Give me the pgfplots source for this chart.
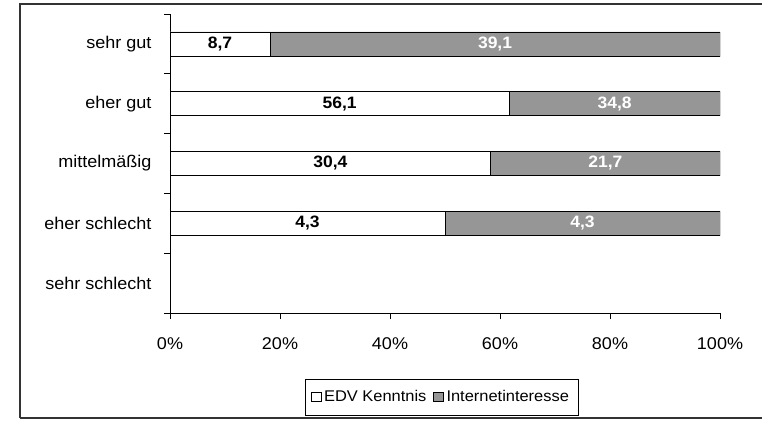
\documentclass[border=0pt]{standalone}
\usepackage{fontspec}
\setmainfont{Liberation Sans}[FakeStretch=1.06]
\usepackage{pgfplots}
\usepackage{pgfplotstable}
\pgfplotsset{compat=1.18}
\definecolor{barGray}{RGB}{150,150,150}
\newcommand{\lblfont}{\fontsize{17bp}{19bp}\selectfont}
\newcommand{\valfont}{\fontsize{16.5bp}{19bp}\selectfont}

\pgfplotstableread{
y p tot edv inet
0 18.2 100 8,7 39,1
1 61.7 100 56,1 34,8
2 58.3 100 30,4 21,7
3 50.0 100 4,3 4,3
}\data

\begin{document}
\begin{tikzpicture}[x=1bp,y=1bp]
\path[use as bounding box] (0,0) rectangle (762,421);
\draw[line width=1.2bp, black!80] (762,417) -- (20,417) -- (20,3);
\draw[line width=2bp, black!80] (20,3) -- (762,3);
\begin{axis}[
 at={(170bp,108bp)}, anchor=south west,
 scale only axis, width=550bp, height=299bp,
 xmin=0, xmax=100, ymin=-0.5, ymax=4.5, y dir=reverse,
 axis x line*=bottom, axis y line*=left,
 axis line style={line width=0.8bp, black},
 xtick={0,20,...,100}, xticklabels={0\%,20\%,40\%,60\%,80\%,100\%},
 ytick={0,...,4}, yticklabels={sehr gut, eher gut, mittelmäßig, eher schlecht, sehr schlecht},
 minor ytick={-0.5,0.5,...,4.5},
 tick align=outside, major tick length=6bp, minor tick length=6bp,
 tick style={black, line width=0.8bp},
 major y tick style={draw=none},
 xticklabel style={font=\lblfont, yshift=-15bp},
 yticklabel style={font=\lblfont, xshift=-9bp},
 legend style={at={(axis description cs:0.4936,-0.281)}, anchor=center, legend columns=2, draw=black, line width=0.6bp, font=\fontsize{15.5bp}{18bp}\selectfont, inner xsep=6bp, inner ysep=5.5bp, nodes={inner ysep=6bp, inner xsep=3bp}, /tikz/every even column/.append style={column sep=4bp}},
 legend cell align=left,
]
\addplot[xbar, bar width=24bp, bar shift=0pt, fill=barGray, draw=black, line width=0.8bp, forget plot] table[x=tot, y=y]{\data};
\addplot[xbar, bar width=24bp, bar shift=0pt, fill=white, draw=black, line width=0.8bp, forget plot] table[x=p, y=y]{\data};
\addplot[only marks, mark=none, nodes near coords, point meta=explicit symbolic,
  every node near coord/.append style={anchor=center, text=black, font=\bfseries\valfont}, forget plot]
  table[x expr=\thisrow{p}/2, y=y, meta=edv]{\data};
\addplot[only marks, mark=none, nodes near coords, point meta=explicit symbolic,
  every node near coord/.append style={anchor=center, text=white, font=\bfseries\valfont}, forget plot]
  table[x expr=(\thisrow{p}+100)/2, y=y, meta=inet]{\data};
\addlegendimage{legend image code/.code={\draw[black, fill=white, line width=0.6bp] (0bp,-4.5bp) rectangle (9.5bp,4.5bp);}}
\addlegendentry{EDV Kenntnis}
\addlegendimage{legend image code/.code={\draw[black, fill=barGray, line width=0.6bp] (0bp,-4.5bp) rectangle (9.5bp,4.5bp);}}
\addlegendentry{Internetinteresse}
\end{axis}
\end{tikzpicture}
\end{document}
